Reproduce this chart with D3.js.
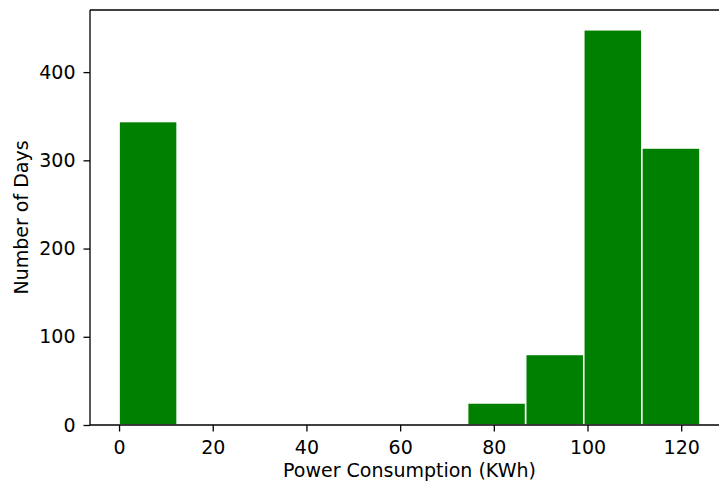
<!DOCTYPE html>
<html>
<head>
<meta charset="utf-8">
<script src="https://cdn.jsdelivr.net/npm/d3@7"></script>
<style>
  html, body { margin: 0; padding: 0; background: #fff; }
  svg { display: block; }
  text { font-family: "DejaVu Sans", sans-serif; fill: #000; }
</style>
</head>
<body>
<svg id="chart" width="719" height="482"></svg>
<script>
// Histogram of daily power consumption: 10 equal bins from 0 to 124 KWh
const binStart = 0;
const binEnd = 124;
const binCount = 10;
const dayCounts = [344, 0, 0, 0, 0, 0, 25, 80, 448, 314];
const xTickValues = [0, 20, 40, 60, 80, 100, 120];
const yTickValues = [0, 100, 200, 300, 400];

const binWidth = (binEnd - binStart) / binCount;
const bins = dayCounts.map((c, i) => ({
  x0: binStart + i * binWidth,
  x1: binStart + (i + 1) * binWidth,
  count: c
}));

const svg = d3.select("#chart");
const margin = { left: 90, top: 10, right: 729, bottom: 425 };
const fontSize = "19px";

// matplotlib-style 5% padding around the data range
const xPad = (binEnd - binStart) * 0.05;
const yMax = d3.max(dayCounts) * 1.05;

const x = d3.scaleLinear()
  .domain([binStart - xPad, binEnd + xPad])
  .range([margin.left, margin.right]);
const y = d3.scaleLinear()
  .domain([0, yMax])
  .range([margin.bottom, margin.top]);

// bars
svg.append("g")
  .selectAll("rect")
  .data(bins.filter(b => b.count > 0))
  .join("rect")
  .attr("x", d => x(d.x0))
  .attr("y", d => y(d.count))
  .attr("width", d => x(d.x1) - x(d.x0))
  .attr("height", d => y(0) - y(d.count))
  .attr("fill", "#008000")
  .attr("stroke", "#ffffff")
  .attr("stroke-width", 1.6);

// axes
const xAxis = svg.append("g")
  .attr("transform", `translate(0,${margin.bottom})`)
  .call(d3.axisBottom(x).tickValues(xTickValues).tickSize(6.5).tickPadding(9).tickFormat(d3.format("d")));
const yAxis = svg.append("g")
  .attr("transform", `translate(${margin.left},0)`)
  .call(d3.axisLeft(y).tickValues(yTickValues).tickSize(6.5).tickPadding(8).tickFormat(d3.format("d")));

[xAxis, yAxis].forEach(g => {
  g.select(".domain").remove();
  g.selectAll(".tick line").attr("stroke", "#000").attr("stroke-width", 1.3);
  g.selectAll(".tick text").attr("font-size", fontSize).attr("fill", "#000")
    .style("font-family", "'DejaVu Sans', sans-serif");
});

// spines
const spine = svg.append("g").attr("stroke", "#000").attr("stroke-width", 1.3).attr("fill", "none");
spine.append("line").attr("x1", margin.left).attr("x2", margin.left).attr("y1", margin.top).attr("y2", margin.bottom);
spine.append("line").attr("x1", margin.left).attr("x2", margin.right).attr("y1", margin.bottom).attr("y2", margin.bottom);
spine.append("line").attr("x1", margin.left).attr("x2", margin.right).attr("y1", margin.top).attr("y2", margin.top);
spine.append("line").attr("x1", margin.right).attr("x2", margin.right).attr("y1", margin.top).attr("y2", margin.bottom);

// axis titles
svg.append("text")
  .attr("x", (margin.left + margin.right) / 2)
  .attr("y", 477)
  .attr("text-anchor", "middle")
  .attr("font-size", fontSize)
  .text("Power Consumption (KWh)");

svg.append("text")
  .attr("transform", `translate(28,${(margin.top + margin.bottom) / 2}) rotate(-90)`)
  .attr("text-anchor", "middle")
  .attr("font-size", fontSize)
  .text("Number of Days");
</script>
</body>
</html>
